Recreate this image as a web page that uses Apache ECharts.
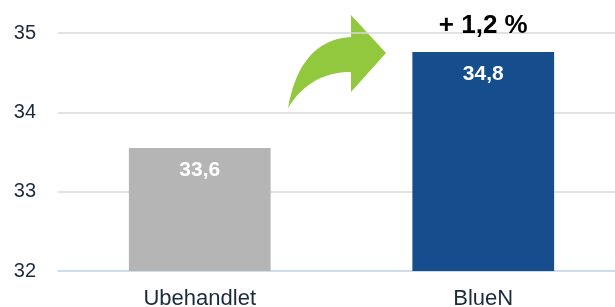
<!DOCTYPE html>
<html>
<head>
<meta charset="utf-8">
<script src="https://cdn.jsdelivr.net/npm/echarts@6/dist/echarts.min.js"></script>
<style>
  html, body { margin: 0; padding: 0; background: #fff; }
  #chart { width: 615px; height: 307px; }
</style>
</head>
<body>
<div id="chart"></div>
<script>
var categories = ["Ubehandlet", "BlueN"];
var values = [33.55, 34.76];
var valueLabels = ["33,6", "34,8"];
var barColors = ["#b5b5b5", "#164e8d"];
var changeLabel = ["", "+ 1,2 %"];

var myChart = echarts.init(document.getElementById("chart"));

// curved arrow outline (quadratic curves sampled into a polygon)
function quad(p0, c, p1, n) {
  var pts = [];
  for (var i = 0; i <= n; i++) {
    var t = i / n, u = 1 - t;
    pts.push([u * u * p0[0] + 2 * u * t * c[0] + t * t * p1[0],
              u * u * p0[1] + 2 * u * t * c[1] + t * t * p1[1]]);
  }
  return pts;
}
var arrowPts = quad([288, 108], [300, 40], [351, 37], 20)
  .concat([[351, 15], [386, 53], [351, 92]])
  .concat(quad([351, 72], [310, 72], [288, 108], 20));

var option = {
  animation: false,
  grid: {
    left: 58,
    right: -10,
    top: 33,
    bottom: 36,
    outerBoundsMode: "none"
  },
  xAxis: {
    type: "category",
    data: categories,
    axisTick: { show: false },
    axisLine: { lineStyle: { color: "#c9dbef", width: 1.5 } },
    axisLabel: {
      color: "#1c2b3c",
      fontSize: 22,
      fontFamily: "Liberation Sans",
      margin: 17
    }
  },
  yAxis: {
    type: "value",
    min: 32,
    max: 35,
    interval: 1,
    axisLine: { show: false },
    axisTick: { show: false },
    splitLine: { lineStyle: { color: "#d9d9d9", width: 1.5 } },
    axisLabel: {
      color: "#1c2b3c",
      fontSize: 20,
      fontFamily: "Liberation Sans",
      margin: 22
    }
  },
  series: [
    {
      type: "bar",
      barWidth: "50%",
      data: values.map(function (v, i) {
        return { value: v, itemStyle: { color: barColors[i] } };
      }),
      label: {
        show: true,
        position: "insideTop",
        distance: 12,
        color: "#fff",
        fontSize: 21,
        fontWeight: "bold",
        fontFamily: "Liberation Sans",
        formatter: function (p) { return valueLabels[p.dataIndex]; }
      }
    },
    {
      type: "bar",
      barWidth: "50%",
      barGap: "-100%",
      silent: true,
      data: values,
      itemStyle: { color: "rgba(0,0,0,0)" },
      label: {
        show: true,
        position: "top",
        distance: 13,
        color: "#000",
        fontSize: 26,
        fontWeight: "bold",
        fontFamily: "Liberation Sans",
        formatter: function (p) { return changeLabel[p.dataIndex]; }
      }
    }
  ],
  graphic: [
    {
      type: "polygon",
      shape: { points: arrowPts },
      style: { fill: "#92c83e" }
    }
  ]
};

myChart.setOption(option, true);
</script>
</body>
</html>
